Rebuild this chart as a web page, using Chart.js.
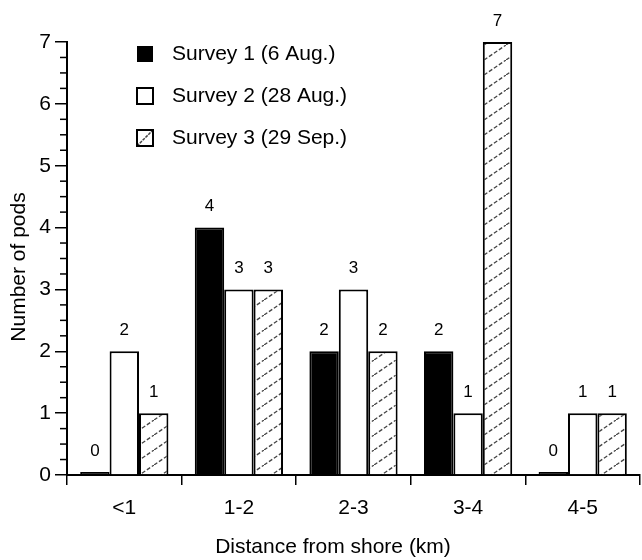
<!DOCTYPE html>
<html>
<head>
<meta charset="utf-8">
<script src="https://cdn.jsdelivr.net/npm/chart.js@4"></script>
<style>
  html, body { margin: 0; padding: 0; background: #fff; }
  #wrap { width: 642px; height: 560px; }
</style>
</head>
<body>
<div id="wrap"><canvas id="pods" width="642" height="560"></canvas></div>
<script>
// data
const distanceLabels = ['<1', '1-2', '2-3', '3-4', '4-5'];
const survey1 = [0, 4, 2, 2, 0];
const survey2 = [2, 3, 3, 1, 1];
const survey3 = [1, 3, 2, 7, 1];
const surveyNames = ['Survey 1 (6 Aug.)', 'Survey 2 (28 Aug.)', 'Survey 3 (29 Sep.)'];
const xTitle = 'Distance from shore (km)';
const yTitle = 'Number of pods';
const yMax = 7;

const FONT = "'Liberation Sans', Arial, sans-serif";

// grey dashed "/" hatch for survey 3
function makeHatch() {
  const c = document.createElement('canvas');
  c.width = 22;
  c.height = 15;
  const g = c.getContext('2d');
  g.fillStyle = '#fff';
  g.fillRect(0, 0, 22, 15);
  g.strokeStyle = '#444';
  g.lineWidth = 1.3;
  g.setLineDash([4, 2]);
  g.beginPath();
  g.moveTo(0, 15);
  g.lineTo(22, 0);
  g.stroke();
  return g.createPattern(c, 'repeat');
}
const hatch = makeHatch();

// little quarter ticks on the y axis
const minorTicks = {
  id: 'minorTicks',
  afterDraw(chart) {
    const y = chart.scales.y;
    const ctx = chart.ctx;
    ctx.save();
    ctx.strokeStyle = '#000';
    ctx.lineWidth = 1.5;
    for (let v = 0.25; v < yMax; v += 0.25) {
      if (v % 1 === 0) continue;
      const py = y.getPixelForValue(v);
      ctx.beginPath();
      ctx.moveTo(y.right - 7, py);
      ctx.lineTo(y.right, py);
      ctx.stroke();
    }
    ctx.restore();
  }
};

// value printed over every bar
const valueLabels = {
  id: 'valueLabels',
  afterDatasetsDraw(chart) {
    const ctx = chart.ctx;
    ctx.save();
    ctx.fillStyle = '#000';
    ctx.font = '17px ' + FONT;
    ctx.textAlign = 'center';
    ctx.textBaseline = 'middle';
    chart.data.datasets.forEach((ds, i) => {
      chart.getDatasetMeta(i).data.forEach((bar, j) => {
        ctx.fillText(String(ds.data[j]), bar.x, bar.y - 21);
      });
    });
    ctx.restore();
  }
};

// axis titles - the original has them a bit off the plot centre
const axisTitles = {
  id: 'axisTitles',
  afterDraw(chart) {
    const ctx = chart.ctx;
    ctx.save();
    ctx.fillStyle = '#000';
    ctx.font = '21px ' + FONT;
    ctx.textAlign = 'center';
    ctx.textBaseline = 'middle';
    ctx.fillText(xTitle, 333, 547);
    ctx.translate(19, 267);
    ctx.rotate(-Math.PI / 2);
    ctx.fillText(yTitle, 0, 0);
    ctx.restore();
  }
};

// legend sits inside the plot, top left
const insideLegend = {
  id: 'insideLegend',
  afterDraw(chart) {
    const ctx = chart.ctx;
    const a = chart.chartArea;
    const s = 16;
    ctx.save();
    chart.data.datasets.forEach((ds, i) => {
      const cy = a.top + 12 + i * 42;
      const x = a.left + 70;
      if (i === 0) {
        ctx.fillStyle = '#000';
        ctx.fillRect(x, cy - s / 2, s, s);
      } else {
        ctx.fillStyle = '#fff';
        ctx.fillRect(x, cy - s / 2, s, s);
        if (i === 2) {
          ctx.strokeStyle = '#444';
          ctx.lineWidth = 1.5;
          ctx.setLineDash([3, 1]);
          ctx.beginPath();
          ctx.moveTo(x, cy + s / 2);
          ctx.lineTo(x + s, cy - s / 2);
          ctx.stroke();
          ctx.setLineDash([]);
        }
        ctx.strokeStyle = '#000';
        ctx.lineWidth = 2;
        ctx.strokeRect(x, cy - s / 2, s, s);
      }
      ctx.fillStyle = '#000';
      ctx.font = '21px ' + FONT;
      ctx.textAlign = 'left';
      ctx.textBaseline = 'middle';
      ctx.fillText(ds.label, a.left + 105, cy);
    });
    ctx.restore();
  }
};

new Chart(document.getElementById('pods'), {
  type: 'bar',
  data: {
    labels: distanceLabels,
    datasets: [
      {
        label: surveyNames[0],
        data: survey1,
        backgroundColor: '#000',
        borderColor: '#000',
        borderWidth: 2,
        minBarLength: 3
      },
      {
        label: surveyNames[1],
        data: survey2,
        backgroundColor: '#fff',
        borderColor: '#000',
        borderWidth: 2
      },
      {
        label: surveyNames[2],
        data: survey3,
        backgroundColor: hatch,
        borderColor: '#000',
        borderWidth: 2
      }
    ]
  },
  options: {
    responsive: false,
    animation: false,
    barPercentage: 1,
    categoryPercentage: 0.77,
    layout: { padding: { top: 42, right: 2, left: 0, bottom: 0 } },
    plugins: {
      legend: { display: false },
      tooltip: { enabled: false }
    },
    scales: {
      x: {
        offset: true,
        grid: {
          offset: true,
          drawOnChartArea: false,
          tickLength: 10,
          color: '#000',
          lineWidth: 1.5
        },
        border: { color: '#000', width: 2 },
        ticks: { font: { family: FONT, size: 21 }, color: '#000', padding: 11 },
        afterFit(s) { s.height = 85; }
      },
      y: {
        min: 0,
        max: yMax,
        grid: {
          drawOnChartArea: false,
          tickLength: 12,
          color: '#000',
          lineWidth: 1.5
        },
        border: { color: '#000', width: 2 },
        ticks: { stepSize: 1, font: { family: FONT, size: 21 }, color: '#000', padding: 4 },
        afterFit(s) { s.width = 67; }
      }
    }
  },
  plugins: [minorTicks, valueLabels, insideLegend, axisTitles]
});
</script>
</body>
</html>
